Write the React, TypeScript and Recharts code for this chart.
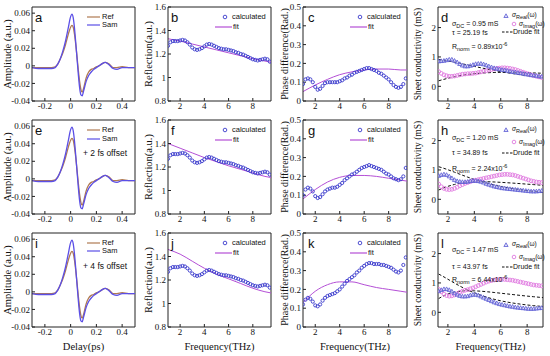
import React from 'react';
import { ComposedChart, Line, Scatter, XAxis, YAxis, ReferenceLine } from 'recharts';

// ---------- data ----------
const delay = [-0.3,-0.25,-0.2,-0.15,-0.12,-0.1,-0.08,-0.06,-0.04,-0.02,0,0.01,0.02,0.03,0.04,0.05,0.06,0.07,0.08,0.09,0.1,0.12,0.14,0.16,0.18,0.2,0.22,0.24,0.27,0.3,0.33,0.36,0.4,0.45,0.5];
const refSig = [-0.002,-0.002,-0.002,-0.002,-0.001,0.002,0.008,0.015,0.024,0.035,0.044,0.046,0.044,0.036,0.024,0.010,-0.005,-0.018,-0.027,-0.030,-0.026,-0.014,-0.007,-0.004,-0.003,-0.001,0.000,0.002,0.004,0.002,-0.002,-0.002,-0.001,-0.002,-0.002];
const samSig = [-0.002,-0.003,-0.003,-0.003,-0.002,0.002,0.008,0.017,0.028,0.042,0.056,0.059,0.055,0.043,0.026,0.008,-0.010,-0.025,-0.033,-0.034,-0.029,-0.018,-0.011,-0.007,-0.004,-0.002,0.000,0.002,0.004,0.001,-0.003,-0.004,-0.002,-0.002,-0.002];

const freqCalc = [1.0,1.2,1.4,1.6,1.8,2.0,2.2,2.4,2.6,2.8,3.0,3.2,3.4,3.6,3.8,4.0,4.2,4.4,4.6,4.8,5.0,5.2,5.4,5.6,5.8,6.0,6.2,6.4,6.6,6.8,7.0,7.2,7.4,7.6,7.8,8.0,8.2,8.4,8.6,8.8,9.0,9.2,9.4];
const reflCalc = [1.27,1.30,1.31,1.31,1.31,1.315,1.32,1.315,1.30,1.28,1.255,1.24,1.235,1.24,1.25,1.265,1.28,1.285,1.28,1.27,1.26,1.25,1.245,1.24,1.24,1.235,1.23,1.225,1.215,1.21,1.20,1.195,1.185,1.175,1.165,1.155,1.15,1.145,1.15,1.155,1.16,1.155,1.135];
const phaseCalcC = [0.09,0.115,0.12,0.115,0.10,0.075,0.06,0.065,0.08,0.095,0.10,0.10,0.10,0.10,0.10,0.105,0.11,0.12,0.125,0.135,0.14,0.15,0.155,0.16,0.165,0.17,0.175,0.175,0.17,0.165,0.16,0.15,0.145,0.135,0.125,0.115,0.10,0.085,0.075,0.07,0.075,0.09,0.12];
const phaseCalcG = [0.10,0.13,0.14,0.135,0.12,0.095,0.085,0.09,0.105,0.12,0.13,0.135,0.14,0.14,0.145,0.155,0.165,0.18,0.19,0.20,0.21,0.215,0.225,0.235,0.245,0.25,0.255,0.26,0.255,0.25,0.245,0.24,0.235,0.225,0.215,0.21,0.20,0.19,0.185,0.18,0.185,0.20,0.245];
const phaseCalcK = [0.12,0.145,0.155,0.15,0.135,0.115,0.11,0.12,0.14,0.155,0.165,0.17,0.175,0.18,0.19,0.20,0.215,0.23,0.245,0.255,0.265,0.275,0.29,0.30,0.315,0.325,0.335,0.34,0.34,0.335,0.335,0.335,0.33,0.33,0.325,0.32,0.315,0.305,0.295,0.29,0.30,0.33,0.37];

const fitFreq = [1,2,3,4,5,6,7,8,9,9.5];
const reflFitB = [1.33,1.31,1.285,1.26,1.235,1.21,1.185,1.16,1.14,1.13];
const reflFitF = [1.40,1.36,1.32,1.28,1.245,1.21,1.18,1.15,1.12,1.11];
const reflFitJ = [1.46,1.42,1.36,1.30,1.25,1.21,1.17,1.13,1.10,1.09];
const phaseFitC = [0.05,0.085,0.115,0.14,0.155,0.165,0.17,0.17,0.165,0.165];
const phaseFitG = [0.08,0.13,0.17,0.195,0.205,0.205,0.20,0.19,0.18,0.175];
const phaseFitK = [0.13,0.19,0.225,0.24,0.24,0.225,0.21,0.20,0.19,0.185];

const freqSig = [1.3,1.5,1.7,1.9,2.1,2.3,2.5,2.7,2.9,3.1,3.3,3.5,3.7,3.9,4.1,4.3,4.5,4.7,4.9,5.1,5.3,5.5,5.7,5.9,6.1,6.3,6.5,6.7,6.9,7.1,7.3,7.5,7.7,7.9,8.1,8.3,8.5,8.7,8.9,9.1];
const sigReD = [0.85,0.86,0.87,0.89,0.91,0.91,0.87,0.82,0.76,0.71,0.68,0.68,0.70,0.73,0.76,0.77,0.77,0.75,0.72,0.68,0.65,0.62,0.60,0.58,0.56,0.55,0.53,0.51,0.49,0.48,0.46,0.45,0.43,0.41,0.40,0.38,0.37,0.36,0.34,0.33];
const sigImD = [0.50,0.44,0.39,0.36,0.34,0.34,0.35,0.37,0.39,0.41,0.42,0.43,0.43,0.44,0.45,0.47,0.49,0.51,0.53,0.55,0.57,0.59,0.61,0.62,0.63,0.63,0.62,0.61,0.59,0.57,0.54,0.51,0.48,0.45,0.42,0.39,0.36,0.34,0.32,0.30];
const sigReH = [0.80,0.83,0.85,0.83,0.78,0.72,0.66,0.62,0.60,0.59,0.59,0.60,0.62,0.63,0.63,0.62,0.60,0.57,0.53,0.50,0.47,0.44,0.42,0.40,0.38,0.37,0.36,0.35,0.34,0.33,0.32,0.31,0.30,0.29,0.28,0.27,0.27,0.27,0.28,0.29];
const sigImH = [0.52,0.43,0.37,0.34,0.33,0.34,0.37,0.41,0.46,0.50,0.54,0.57,0.60,0.63,0.65,0.67,0.69,0.71,0.73,0.75,0.77,0.79,0.81,0.83,0.84,0.85,0.85,0.84,0.83,0.81,0.78,0.75,0.72,0.69,0.66,0.63,0.61,0.59,0.58,0.57];
const sigReL = [0.72,0.76,0.79,0.79,0.76,0.71,0.65,0.60,0.56,0.54,0.54,0.55,0.58,0.60,0.60,0.58,0.54,0.50,0.46,0.42,0.38,0.34,0.31,0.28,0.26,0.24,0.22,0.20,0.19,0.17,0.16,0.15,0.14,0.13,0.12,0.12,0.12,0.13,0.14,0.15];
const sigImL = [0.78,0.70,0.62,0.57,0.55,0.56,0.59,0.63,0.68,0.72,0.75,0.77,0.80,0.83,0.87,0.91,0.95,0.99,1.03,1.06,1.08,1.10,1.11,1.12,1.12,1.12,1.11,1.10,1.09,1.07,1.05,1.03,1.01,0.99,0.97,0.95,0.93,0.92,0.91,0.90];

const drudeFreq = [1.3,1.6,2,2.5,3,3.5,4,4.5,5,5.5,6,6.5,7,7.5,8,8.5,9,9.2];
const drudeReD = [0.911,0.893,0.863,0.821,0.775,0.727,0.678,0.630,0.584,0.540,0.500,0.462,0.427,0.394,0.365,0.338,0.314,0.305];
const drudeImD = [0.188,0.226,0.273,0.325,0.368,0.403,0.429,0.449,0.462,0.470,0.474,0.475,0.473,0.468,0.462,0.455,0.447,0.443];
const drudeReH = [1.110,1.069,1.007,0.923,0.838,0.755,0.678,0.608,0.545,0.489,0.440,0.396,0.358,0.324,0.294,0.268,0.245,0.237];
const drudeImH = [0.316,0.375,0.441,0.506,0.551,0.580,0.595,0.600,0.598,0.590,0.578,0.564,0.549,0.533,0.516,0.500,0.484,0.478];
const drudeReL = [1.302,1.230,1.126,0.995,0.871,0.760,0.662,0.578,0.506,0.444,0.392,0.348,0.310,0.278,0.250,0.226,0.205,0.197];
const drudeImL = [0.468,0.544,0.622,0.687,0.722,0.735,0.731,0.718,0.698,0.675,0.650,0.625,0.600,0.575,0.552,0.530,0.509,0.501];

const timeTicks = [-0.2, 0, 0.2, 0.4];
const ampTicks = [-0.04, -0.02, 0, 0.02, 0.04, 0.06];
const freqTicks = [2, 4, 6, 8];
const reflTicks = [0.8, 1, 1.2, 1.4, 1.6];
const phaseTicks = [0, 0.1, 0.2, 0.3, 0.4, 0.5];
const condTicks = [0, 1, 2];

// ---------- styling ----------
const SERIF = '"Liberation Serif", "Times New Roman", serif';
const SANS = '"Liberation Sans", Arial, sans-serif';
const C_REF = '#b07a52';
const C_SAM = '#5b4fe6';
const C_CALC = '#3a3acc';
const C_FIT = '#b44fd6';
const C_RE = '#5c5cd4';
const C_IM = '#e07ae0';

const pts = (xs: number[], ys: number[]) => xs.map((x, i) => ({ x, y: ys[i] }));

const circleShape = (color: string, r: number) => (p: any) =>
  <circle cx={p.cx} cy={p.cy} r={r} fill="none" stroke={color} strokeWidth={0.9} />;
const triShape = (color: string) => (p: any) =>
  <polygon points={`${p.cx},${p.cy - 2.2} ${p.cx - 2.1},${p.cy + 1.5} ${p.cx + 2.1},${p.cy + 1.5}`} fill="#b9b9f0" fillOpacity={0.5} stroke={color} strokeWidth={0.8} />;

const COLS = [
  { left: 32, w: 103 },
  { left: 168, w: 103 },
  { left: 303, w: 104 },
  { left: 438, w: 105 },
];
const ROWS = [7, 120, 233];
const PH = 94;

type FrameProps = {
  col: number; row: number; xDomain: number[]; yDomain: number[];
  xTicks: number[]; yTicks: number[]; yLabel: string; yLabelOffset: number; yLabelSize?: number; xLabel?: string;
  children: React.ReactNode;
};

function Frame({ col, row, xDomain, yDomain, xTicks, yTicks, yLabel, yLabelOffset, yLabelSize = 10.5, xLabel, children }: FrameProps) {
  const c = COLS[col];
  const top = ROWS[row];
  const tickStyle = { fontSize: 9, fill: '#111', fontFamily: SERIF };
  return (
    <div style={{ position: 'absolute', left: c.left - 40, top: top - 4 }}>
      <ComposedChart width={c.w + 44} height={PH + 4 + 30} margin={{ top: 4, right: 4, left: 0, bottom: 0 }}>
        <XAxis
          type="number" dataKey="x" domain={xDomain} ticks={xTicks} allowDataOverflow interval={0}
          tickSize={-3} tickMargin={5} height={30} stroke="#222" tick={tickStyle}
          label={xLabel ? { value: xLabel, position: 'insideBottom', offset: 7, style: { fontSize: 10.5, fill: '#111', fontFamily: SERIF } } : undefined}
        />
        <YAxis
          type="number" dataKey="y" domain={yDomain} ticks={yTicks} allowDataOverflow interval={0}
          tickSize={-3} tickMargin={5} width={40} stroke="#222" tick={tickStyle}
          label={{ value: yLabel, angle: -90, position: 'insideLeft', offset: yLabelOffset, style: { textAnchor: 'middle', fontSize: yLabelSize, fill: '#111', fontFamily: SERIF } }}
        />
        <ReferenceLine y={yDomain[1]} stroke="#222" strokeWidth={1} />
        <ReferenceLine x={xDomain[1]} stroke="#222" strokeWidth={1} />
        {children}
      </ComposedChart>
    </div>
  );
}

function Txt({ x, y, size = 7.5, children, family = SANS }: { x: number; y: number; size?: number; children: React.ReactNode; family?: string }) {
  return (
    <div style={{ position: 'absolute', left: x, top: y, fontSize: size, fontFamily: family, lineHeight: 1, whiteSpace: 'nowrap', color: '#111' }}>
      {children}
    </div>
  );
}

function LineSample({ x, y, w, color, dash }: { x: number; y: number; w: number; color: string; dash?: string }) {
  return (
    <svg style={{ position: 'absolute', left: x, top: y - 2 }} width={w} height={4}>
      <line x1={0} y1={2} x2={w} y2={2} stroke={color} strokeWidth={1.2} strokeDasharray={dash} />
    </svg>
  );
}

function Marker({ x, y, kind, color }: { x: number; y: number; kind: 'circle' | 'tri'; color: string }) {
  return (
    <svg style={{ position: 'absolute', left: x - 4, top: y - 4 }} width={8} height={8}>
      {kind === 'circle' ? (
        <circle cx={4} cy={4} r={1.8} fill="none" stroke={color} strokeWidth={0.9} />
      ) : (
        <polygon points="4,1.8 1.9,5.5 6.1,5.5" fill="#b9b9f0" fillOpacity={0.5} stroke={color} strokeWidth={0.8} />
      )}
    </svg>
  );
}

const Sub = ({ children }: { children: React.ReactNode }) => (
  <span style={{ fontSize: 5.5, position: 'relative', top: 1.5 }}>{children}</span>
);
const Sup = ({ children }: { children: React.ReactNode }) => (
  <span style={{ fontSize: 5.5, position: 'relative', top: -3 }}>{children}</span>
);

const timePanel = (row: number) => (
  <Frame key={'t' + row} col={0} row={row} xDomain={[-0.3, 0.5]} yDomain={[-0.04, 0.067]} xTicks={timeTicks} yTicks={ampTicks}
    yLabel="Amplitude (a.u.)" yLabelOffset={15} xLabel={row === 2 ? 'Delay(ps)' : undefined}>
    <Line data={pts(delay, refSig)} dataKey="y" type="monotone" stroke={C_REF} strokeWidth={1.3} dot={false} isAnimationActive={false} />
    <Line data={pts(delay, samSig)} dataKey="y" type="monotone" stroke={C_SAM} strokeWidth={1.3} dot={false} isAnimationActive={false} />
  </Frame>
);

const reflPanel = (row: number, fit: number[]) => (
  <Frame key={'r' + row} col={1} row={row} xDomain={[1, 9.5]} yDomain={[0.8, 1.6]} xTicks={freqTicks} yTicks={reflTicks}
    yLabel="Reflection(a.u.)" yLabelOffset={20} xLabel={row === 2 ? 'Frequency(THz)' : undefined}>
    <Line data={pts(fitFreq, fit)} dataKey="y" type="monotone" stroke={C_FIT} strokeWidth={1} dot={false} isAnimationActive={false} />
    <Scatter data={pts(freqCalc, reflCalc)} shape={circleShape(C_CALC, 1.6)} isAnimationActive={false} />
  </Frame>
);

const phasePanel = (row: number, calc: number[], fit: number[]) => (
  <Frame key={'p' + row} col={2} row={row} xDomain={[1, 9.5]} yDomain={[0, 0.5]} xTicks={freqTicks} yTicks={phaseTicks}
    yLabel="Phase difference(Rad.)" yLabelOffset={21} yLabelSize={10} xLabel={row === 2 ? 'Frequency(THz)' : undefined}>
    <Line data={pts(fitFreq, fit)} dataKey="y" type="monotone" stroke={C_FIT} strokeWidth={1} dot={false} isAnimationActive={false} />
    <Scatter data={pts(freqCalc, calc)} shape={circleShape(C_CALC, 1.6)} isAnimationActive={false} />
  </Frame>
);

const condPanel = (row: number, re: number[], im: number[], dre: number[], dim: number[]) => (
  <Frame key={'s' + row} col={3} row={row} xDomain={[1.25, 9.2]} yDomain={[-0.5, 2.7]} xTicks={freqTicks} yTicks={condTicks}
    yLabel="Sheet conductivity (mS)" yLabelOffset={20} yLabelSize={9.5} xLabel={row === 2 ? 'Frequency(THz)' : undefined}>
    <Scatter data={pts(freqSig, im)} shape={circleShape(C_IM, 1.9)} isAnimationActive={false} />
    <Scatter data={pts(freqSig, re)} shape={triShape(C_RE)} isAnimationActive={false} />
    <Line data={pts(drudeFreq, dre)} dataKey="y" type="monotone" stroke="#111" strokeWidth={1} strokeDasharray="3 2" dot={false} isAnimationActive={false} />
    <Line data={pts(drudeFreq, dim)} dataKey="y" type="monotone" stroke="#111" strokeWidth={1} strokeDasharray="3 2" dot={false} isAnimationActive={false} />
  </Frame>
);

const letters = [
  ['a', 'b', 'c', 'd'],
  ['e', 'f', 'g', 'h'],
  ['i', 'j', 'k', 'l'],
];
const letterX = [35, 171, 308, 441];

const condText = [
  { dc: '0.95', tau: '25.19', r: '0.89', dy: [13, 22, 36], ly: [9, 17, 25] },
  { dc: '1.20', tau: '34.89', r: '2.24', dy: [14, 29, 45], ly: [10, 22, 33] },
  { dc: '1.47', tau: '43.97', r: '6.44', dy: [13, 30, 43], ly: [12, 24, 34] },
];
const refLegY = [[10, 18], [10, 19], [10, 18]];
const offsetText = ['', '+ 2 fs offset', '+ 4 fs offset'];

export default function App() {
  return (
    <div style={{ position: 'absolute', left: 0, top: 0, width: 550, height: 356, background: '#fff', overflow: 'hidden' }}>
      {ROWS.map((_, r) => timePanel(r))}
      {reflPanel(0, reflFitB)}
      {reflPanel(1, reflFitF)}
      {reflPanel(2, reflFitJ)}
      {phasePanel(0, phaseCalcC, phaseFitC)}
      {phasePanel(1, phaseCalcG, phaseFitG)}
      {phasePanel(2, phaseCalcK, phaseFitK)}
      {condPanel(0, sigReD, sigImD, drudeReD, drudeImD)}
      {condPanel(1, sigReH, sigImH, drudeReH, drudeImH)}
      {condPanel(2, sigReL, sigImL, drudeReL, drudeImL)}

      {ROWS.map((top, r) => {
        const ct = condText[r];
        return (
          <React.Fragment key={'ov' + r}>
            {letters[r].map((l, c) => (
              <Txt key={l} x={letterX[c]} y={top + 4} size={13}>{l}</Txt>
            ))}
            {/* Ref / Sam legend */}
            <LineSample x={87} y={top + refLegY[r][0]} w={13} color={C_REF} />
            <Txt x={102} y={top + refLegY[r][0] - 4}>Ref</Txt>
            <LineSample x={87} y={top + refLegY[r][1]} w={13} color={C_SAM} />
            <Txt x={102} y={top + refLegY[r][1] - 4}>Sam</Txt>
            {offsetText[r] && <Txt x={83} y={top + 29} size={8.5}>{offsetText[r]}</Txt>}
            {/* calculated / fit legends */}
            {[1, 2].map((c) => {
              const base = COLS[c].left;
              return (
                <React.Fragment key={'lg' + c}>
                  <Marker x={base + 57} y={top + 10} kind="circle" color={C_CALC} />
                  <Txt x={base + 64} y={top + 6}>calculated</Txt>
                  <LineSample x={base + 47} y={top + 20} w={17} color={C_FIT} />
                  <Txt x={base + 65} y={top + 16}>fit</Txt>
                </React.Fragment>
              );
            })}
            {/* conductivity annotations */}
            <Txt x={452} y={top + ct.dy[0]} size={7}>σ<Sub>DC</Sub> = {ct.dc} mS</Txt>
            <Txt x={452} y={top + ct.dy[1]} size={7}>τ = {ct.tau} fs</Txt>
            <Txt x={452} y={top + ct.dy[2]} size={7}>R<Sub>norm</Sub> = {ct.r}x10<Sup>-6</Sup></Txt>
            <Marker x={506} y={top + ct.ly[0]} kind="tri" color={C_RE} />
            <Txt x={512} y={top + ct.ly[0] - 4} size={6.5}><i>σ</i><Sub>Real</Sub>(ω)</Txt>
            <Marker x={514} y={top + ct.ly[1]} kind="circle" color={C_IM} />
            <Txt x={519} y={top + ct.ly[1] - 3} size={6.5}><i>σ</i><Sub>Imag</Sub>(ω)</Txt>
            <LineSample x={502} y={top + ct.ly[2]} w={11} color="#111" dash="2.5 1.5" />
            <Txt x={513} y={top + ct.ly[2] - 4} size={7}>Drude fit</Txt>
          </React.Fragment>
        );
      })}
    </div>
  );
}
